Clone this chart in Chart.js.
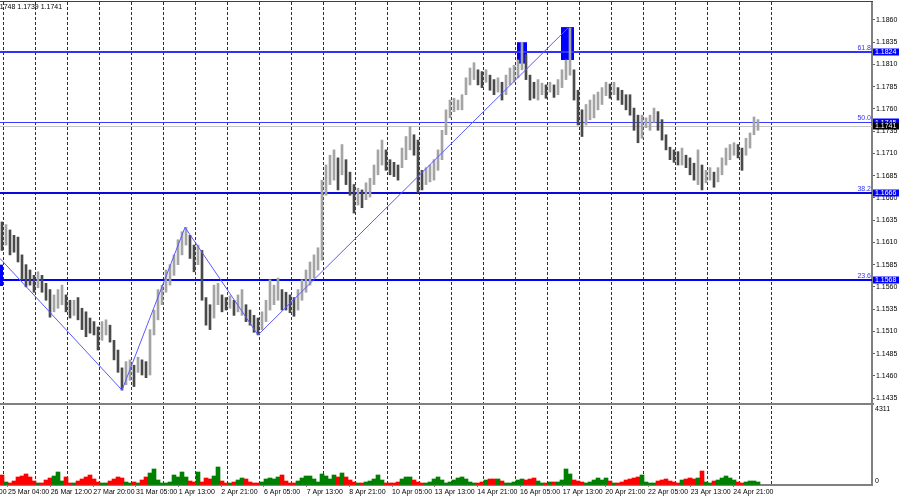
<!DOCTYPE html>
<html><head><meta charset="utf-8">
<script src="https://cdn.jsdelivr.net/npm/chart.js@4.4.0/dist/chart.umd.min.js"></script>
<style>
html,body{margin:0;padding:0;background:#fff;overflow:hidden;}
#wrap{position:relative;width:900px;height:500px;background:#fff;}
canvas{position:absolute;left:0;}
#cp{top:0;} #cv{top:405px;}
</style></head><body>
<div id="wrap">
<canvas id="cp" width="900" height="405"></canvas>
<canvas id="cv" width="900" height="95"></canvas>
</div>
<script>
// ---- data (one bar per 3 hours, EURUSD H1) ----
const highs = [
1.1633,1.1630,1.1624,1.1618,1.1616,1.1596,1.1585,1.1579,1.1573,1.1577,
1.1573,1.1564,1.1557,1.1551,1.1557,1.1562,1.1551,1.1545,1.1545,1.1548,
1.1536,1.1532,1.1525,1.1521,1.1515,1.1521,1.1523,1.1517,1.1500,1.1489,
1.1469,1.1476,1.1478,1.1472,1.1481,1.1478,1.1476,1.1512,1.1534,1.1557,
1.1562,1.1579,1.1585,1.1596,1.1613,1.1622,1.1627,1.1618,1.1607,1.1607,
1.1601,1.1548,1.1540,1.1562,1.1564,1.1551,1.1548,1.1550,1.1545,1.1551,
1.1557,1.1540,1.1534,1.1528,1.1525,1.1532,1.1545,1.1568,1.1562,1.1570,
1.1557,1.1554,1.1551,1.1548,1.1557,1.1568,1.1579,1.1588,1.1596,1.1604,
1.1680,1.1697,1.1708,1.1714,1.1705,1.1720,1.1703,1.1689,1.1675,1.1671,
1.1669,1.1677,1.1682,1.1697,1.1714,1.1725,1.1714,1.1703,1.1700,1.1697,
1.1716,1.1729,1.1740,1.1731,1.1725,1.1691,1.1694,1.1697,1.1703,1.1714,
1.1736,1.1759,1.1770,1.1772,1.1770,1.1776,1.1795,1.1806,1.1812,1.1804,
1.1802,1.1804,1.1798,1.1793,1.1795,1.1790,1.1798,1.1806,1.1809,1.1815,
1.1835,1.1821,1.1798,1.1790,1.1793,1.1789,1.1787,1.1790,1.1787,1.1793,
1.1804,1.1815,1.1851,1.1804,1.1781,1.1759,1.1765,1.1770,1.1776,1.1779,
1.1784,1.1790,1.1788,1.1790,1.1784,1.1781,1.1776,1.1776,1.1761,1.1753,
1.1753,1.1750,1.1753,1.1761,1.1757,1.1748,1.1731,1.1717,1.1714,1.1712,
1.1716,1.1708,1.1705,1.1699,1.1714,1.1697,1.1691,1.1694,1.1689,1.1694,
1.1705,1.1716,1.1720,1.1722,1.1720,1.1716,1.1727,1.1733,1.1751,1.1748];
const lows = [
1.1601,1.1607,1.1596,1.1599,1.1588,1.1568,1.1560,1.1562,1.1554,1.1559,
1.1554,1.1545,1.1526,1.1532,1.1536,1.1540,1.1532,1.1525,1.1528,1.1523,
1.1512,1.1504,1.1508,1.1506,1.1489,1.1500,1.1506,1.1498,1.1478,1.1464,
1.1444,1.1450,1.1455,1.1448,1.1464,1.1461,1.1458,1.1461,1.1506,1.1523,
1.1540,1.1554,1.1562,1.1573,1.1585,1.1596,1.1607,1.1592,1.1577,1.1585,
1.1545,1.1517,1.1512,1.1525,1.1540,1.1532,1.1534,1.1536,1.1528,1.1532,
1.1528,1.1521,1.1517,1.1509,1.1506,1.1512,1.1521,1.1534,1.1540,1.1545,
1.1534,1.1534,1.1531,1.1527,1.1534,1.1545,1.1554,1.1562,1.1570,1.1579,
1.1590,1.1663,1.1675,1.1680,1.1669,1.1686,1.1675,1.1663,1.1643,1.1652,
1.1649,1.1658,1.1661,1.1675,1.1686,1.1697,1.1691,1.1686,1.1684,1.1680,
1.1694,1.1703,1.1714,1.1708,1.1666,1.1669,1.1675,1.1678,1.1680,1.1691,
1.1703,1.1731,1.1750,1.1757,1.1759,1.1759,1.1776,1.1787,1.1793,1.1787,
1.1784,1.1790,1.1781,1.1776,1.1779,1.1770,1.1776,1.1787,1.1790,1.1795,
1.1804,1.1793,1.1770,1.1772,1.1770,1.1776,1.1772,1.1779,1.1773,1.1776,
1.1784,1.1793,1.1798,1.1770,1.1742,1.1729,1.1742,1.1748,1.1750,1.1759,
1.1765,1.1775,1.1772,1.1776,1.1770,1.1765,1.1759,1.1753,1.1736,1.1722,
1.1727,1.1739,1.1736,1.1745,1.1736,1.1725,1.1714,1.1703,1.1700,1.1697,
1.1697,1.1694,1.1686,1.1680,1.1675,1.1669,1.1677,1.1680,1.1672,1.1678,
1.1686,1.1697,1.1703,1.1708,1.1705,1.1691,1.1708,1.1716,1.1731,1.1736];
const volumes = [
546,164,109,218,437,491,601,437,218,109,
109,273,382,491,710,218,437,109,109,218,
328,437,546,328,164,109,109,218,328,437,
382,164,109,164,109,273,437,655,874,273,
109,109,164,546,437,710,437,218,164,710,
164,382,328,491,983,218,109,109,164,273,
382,328,164,109,109,164,328,382,328,437,
546,218,109,109,218,382,491,491,328,164,
601,491,328,546,437,655,437,273,164,109,
109,164,218,328,546,273,109,109,109,164,
328,437,437,273,164,109,109,164,328,437,
273,109,164,273,382,437,328,164,109,109,
164,273,328,328,328,218,109,109,164,273,
328,273,328,382,218,109,109,164,164,164,
273,874,601,273,218,164,109,164,273,382,
273,382,218,109,109,164,273,328,382,437,
546,164,109,109,218,273,328,218,164,109,
273,328,382,328,382,764,164,109,218,273,
382,491,382,273,164,109,164,218,218,164];
const priceTicks = [1.1435,1.1460,1.1485,1.1510,1.1535,1.1560,1.1585,1.1610,1.1635,1.1660,1.1685,1.1710,1.1735,1.1760,1.1785,1.1810,1.1835,1.1860];
const timeLabels = ["23 Mar 20:00","25 Mar 04:00","26 Mar 12:00","27 Mar 20:00","31 Mar 05:00","1 Apr 13:00","2 Apr 21:00","6 Apr 05:00","7 Apr 13:00","8 Apr 21:00","10 Apr 05:00","13 Apr 13:00","14 Apr 21:00","16 Apr 05:00","17 Apr 13:00","20 Apr 21:00","22 Apr 05:00","23 Apr 13:00","24 Apr 21:00"];
const zigzagSlot = [-0.5, 30, 45.75, 64, 141.5];
const zigzagPrice = [1.1592, 1.1444, 1.1627, 1.1506, 1.1851];
const fibLevels = [1.1824, 1.1745, 1.1666, 1.1568];
const fibNames = ["61.8", "50.0", "38.2", "23.6"];
const boxStart = [-0.5, 128.75, 139.75];
const boxEnd = [0.25, 131.25, 143];
const boxHigh = [1.1585, 1.1835, 1.1852];
const boxLow = [1.1561, 1.1811, 1.1815];
const lastPrice = 1.1741;
const headerText = "1.1748 1.1739 1.1741";
const volMax = 4311;

// ---- layout ----
const FONT = '"Liberation Sans",Arial,sans-serif';
const FS = 7;
Chart.defaults.font.family = FONT;
Chart.defaults.font.size = FS;
Chart.defaults.color = '#000';
const XMIN = -0.5, XMAX = 217.5;
const PMIN = 1.14284, PMAX = 1.18802;
const gridSlots = []; for (let k = 0; k <= 24; k++) gridSlots.push(0.33 + 8 * k);
const labelSlot = j => -9.17 + 10.667 * j;
const fibColors = ['#3030ff', '#3a3aff', '#0a0ad8', '#0000ff'];
const fibWidths = [2, 1, 2, 2];

const mids = highs.map((h, i) => (h + lows[i]) / 2);
const up = mids.map((m, i) => i === 0 ? false : m >= mids[i - 1]);
const barColors = up.map(u => u ? '#a4a4a4' : '#4a4a4a');
const volColors = up.map(u => u ? '#008000' : '#ff0000');

function zeroPad(s) { s.paddingLeft = 0; s.paddingRight = 0; s.paddingTop = 0; s.paddingBottom = 0; }

const priceOverlay = {
  id: 'priceOverlay',
  beforeDatasetsDraw(chart) {
    const {ctx, chartArea: a, scales: {x, y}} = chart;
    ctx.save();
    ctx.beginPath(); ctx.rect(a.left, a.top, a.right - a.left, a.bottom - a.top); ctx.clip();
    const ly = Math.round(y.getPixelForValue(lastPrice)) + 0.5;
    ctx.strokeStyle = '#c4c4c4'; ctx.lineWidth = 1;
    ctx.beginPath(); ctx.moveTo(a.left, ly); ctx.lineTo(a.right, ly); ctx.stroke();
    ctx.fillStyle = '#0000ff';
    for (let k = 0; k < boxStart.length; k++) {
      const x0 = x.getPixelForValue(boxStart[k]), x1 = x.getPixelForValue(boxEnd[k]);
      const y0 = y.getPixelForValue(boxHigh[k]), y1 = y.getPixelForValue(boxLow[k]);
      ctx.fillRect(x0, y0, x1 - x0, y1 - y0);
    }
    for (let k = 0; k < fibLevels.length; k++) {
      let fy = Math.round(y.getPixelForValue(fibLevels[k]));
      if (fibWidths[k] % 2) fy += 0.5;
      ctx.strokeStyle = fibColors[k]; ctx.lineWidth = fibWidths[k];
      ctx.beginPath(); ctx.moveTo(a.left, fy); ctx.lineTo(a.right, fy); ctx.stroke();
    }
    ctx.restore();
  },
  afterDraw(chart) {
    const {ctx, chartArea: a, scales: {y}} = chart;
    ctx.save();
    ctx.font = FS + 'px ' + FONT;
    ctx.textAlign = 'right'; ctx.textBaseline = 'alphabetic';
    for (let k = 0; k < fibLevels.length; k++) {
      const fy = y.getPixelForValue(fibLevels[k]);
      ctx.fillStyle = '#3030ff';
      ctx.fillText(fibNames[k], a.right - 1, fy - 2);
    }
    ctx.textAlign = 'left'; ctx.textBaseline = 'middle';
    const tag = (p, bg) => {
      const ty = y.getPixelForValue(p);
      ctx.fillStyle = bg; ctx.fillRect(a.right + 1, Math.round(ty) - 3.5, 26, 7);
      ctx.fillStyle = '#fff'; ctx.fillText(p.toFixed(4), a.right + 3, ty + 0.5);
    };
    fibLevels.forEach(p => tag(p, '#0000ff'));
    tag(lastPrice, '#000');
    ctx.fillStyle = '#000'; ctx.textBaseline = 'alphabetic';
    ctx.fillText(headerText, -6, 9);
    ctx.fillStyle = '#404040'; ctx.fillRect(0, 1, a.right + 1, 1);
    ctx.fillStyle = '#808080'; ctx.fillRect(0, 403, a.right + 2, 2);
    ctx.restore();
  }
};

new Chart(document.getElementById('cp'), {
  type: 'bar',
  data: {
    datasets: [
      { type: 'line', data: zigzagSlot.map((s, i) => ({x: s, y: zigzagPrice[i]})),
        borderColor: '#5a5aff', borderWidth: 1, pointRadius: 0, tension: 0, order: 0 },
      { type: 'bar', data: highs.map((h, i) => ({x: i, y: [lows[i], h]})),
        backgroundColor: barColors, barThickness: 2, grouped: false, order: 1 }
    ]
  },
  options: {
    responsive: false, animation: false, events: [],
    layout: {padding: {top: 2, bottom: 1, left: 0, right: 0}},
    plugins: {legend: {display: false}, tooltip: {enabled: false}},
    scales: {
      x: { type: 'linear', min: XMIN, max: XMAX, offset: false, ticks: {display: false},
        grid: {color: '#303030', drawTicks: false, lineWidth: 1, offset: false},
        border: {display: false, dash: [3, 2]},
        afterBuildTicks(s) { s.ticks = gridSlots.map(v => ({value: v})); },
        afterFit(s) { s.height = 0; zeroPad(s); } },
      y: { type: 'linear', position: 'right', min: PMIN, max: PMAX,
        ticks: {padding: 1, color: '#000', callback: v => v.toFixed(4)},
        grid: {drawOnChartArea: false, drawTicks: true, tickLength: 3, color: '#606060'},
        border: {display: true, color: '#808080', width: 2},
        afterBuildTicks(s) { s.ticks = priceTicks.map(v => ({value: v})); },
        afterFit(s) { s.width = 28; zeroPad(s); } }
    }
  },
  plugins: [priceOverlay]
});

const volOverlay = {
  id: 'volOverlay',
  afterDraw(chart) {
    const {ctx, chartArea: a} = chart;
    ctx.save();
    ctx.font = FS + 'px ' + FONT; ctx.fillStyle = '#000';
    ctx.textAlign = 'left'; ctx.textBaseline = 'middle';
    ctx.fillText(String(volMax), a.right + 3, a.top + 3.5);
    ctx.fillText('0', a.right + 3, a.bottom - 4);
    ctx.restore();
  }
};

new Chart(document.getElementById('cv'), {
  type: 'bar',
  data: {
    datasets: [
      { data: volumes.map((v, i) => ({x: i, y: v})), backgroundColor: volColors,
        barThickness: 4, grouped: false, xAxisID: 'x', yAxisID: 'y' }
    ]
  },
  options: {
    responsive: false, animation: false, events: [],
    layout: {padding: {top: 1, bottom: 0, left: 0, right: 0}},
    plugins: {legend: {display: false}, tooltip: {enabled: false}},
    scales: {
      x: { type: 'linear', min: XMIN, max: XMAX, offset: false, ticks: {display: false},
        grid: {color: '#303030', drawTicks: false, lineWidth: 1, offset: false},
        border: {display: false, dash: [3, 2]},
        afterBuildTicks(s) { s.ticks = gridSlots.map(v => ({value: v})); },
        afterFit(s) { s.height = 0; zeroPad(s); } },
      xl: { type: 'linear', axis: 'x', position: 'bottom', min: XMIN, max: XMAX, offset: false,
        ticks: {align: 'start', autoSkip: false, maxRotation: 0, minRotation: 0, padding: 1, color: '#000',
          callback: (v, i) => timeLabels[i]},
        grid: {drawOnChartArea: false, drawTicks: true, tickLength: 2, color: '#808080', offset: false},
        border: {display: true, color: '#808080', width: 2},
        afterBuildTicks(s) { s.ticks = timeLabels.map((_, j) => ({value: labelSlot(j)})); },
        afterFit(s) { s.height = 15; zeroPad(s); } },
      y: { type: 'linear', position: 'right', min: 0, max: volMax,
        ticks: {display: false},
        grid: {drawOnChartArea: false, drawTicks: false},
        border: {display: true, color: '#808080', width: 2},
        afterFit(s) { s.width = 28; zeroPad(s); } }
    }
  },
  plugins: [volOverlay]
});
</script>
</body></html>
